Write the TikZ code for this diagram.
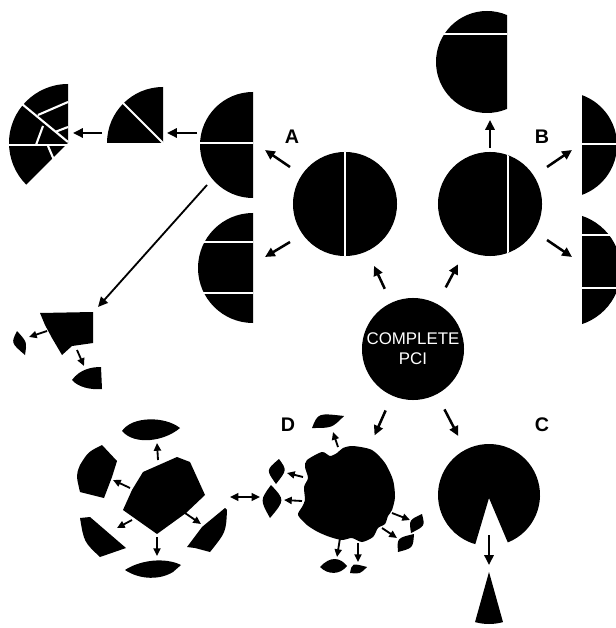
\documentclass[tikz,border=0pt]{standalone}
\usepackage{fontspec}
\setmainfont{Liberation Sans}
\usetikzlibrary{arrows.meta, positioning}
\tikzset{
  piece/.style={fill=black},
  crack/.style={draw=white, line width=1.5pt},
  arrow/.style={-{Triangle[length=7pt,width=6.5pt]}, line width=1.8pt},
  smallarrow/.style={-{Triangle[length=5.5pt,width=5pt]}, line width=1.3pt},
  letter/.style={font=\fontsize{14}{16}\selectfont\bfseries},
  disc/.style={circle, fill=black, inner sep=0pt, minimum size=2.6cm}
}
\begin{document}
\begin{tikzpicture}[x=0.025cm, y=-0.025cm]
  \fill[white] (0,0) rectangle (615,628);
  \useasboundingbox (0,0) rectangle (615,628);

  % Complete PCI and the two split circles
  \node[disc, minimum size=2.55cm, text=white, align=center,
    font=\fontsize{12}{14}\selectfont] (pci) at (413,349) {COMPLETE\\PCI};
  \node[disc] (A) at (345,204) {};
  \node[disc] (B) at (490,204) {};
  \coordinate (C) at (489,495);
  \coordinate (D) at (348,495);
  \draw[crack] (A.north) -- (A.south);
  \begin{scope}
    \clip (B) circle (52);
    \draw[crack] (508,140) -- (508,270);
  \end{scope}

  % Letters
  \node[letter] (labA) at (292,137) {A};
  \node[letter] (labB) at (542,137) {B};
  \node[letter] (labC) at (542,425) {C};
  \node[letter] (labD) at (288,425) {D};

  % Arrows out of the complete PCI
  \draw[arrow, shorten <=0.38cm, shorten >=0.4cm] (pci) -- (A);
  \draw[arrow, shorten <=0.46cm, shorten >=0.4cm] (pci) -- (B);
  \draw[arrow, shorten <=0.42cm, shorten >=1.66cm] (pci) -- (C);
  \draw[arrow, shorten <=0.4cm, shorten >=1.63cm] (pci) -- (D);

  % A: halves and their pieces
  \draw[arrow] (290,167) -- (265,150);
  \draw[arrow] (290,242) -- (265,257);
  \fill[piece] (253,92) arc[start angle=-90, end angle=-270, radius=53] -- cycle;
  \draw[crack] (199,143) -- (253,143);
  \fill[piece] (253,213) arc[start angle=-90, end angle=-270, radius=55] -- cycle;
  \draw[crack] (197,242) -- (253,242);
  \draw[crack] (197,293) -- (253,293);

  \draw[arrow] (197,133) -- (167,133);
  \fill[piece] (163,143) -- (107,143) arc[start angle=180, end angle=270, radius=56] -- cycle;
  \draw[crack] (163,143) -- ++(225:58);

  \draw[arrow] (102,133) -- (73,133);
  \fill[piece] (68,143) -- (68,84) arc[start angle=270, end angle=135, radius=59] -- cycle;
  \draw[crack] (5,145) -- (68,145);
  \draw[crack] (22,104) -- (68,142);
  \draw[crack] (38,115) -- (68,102);
  \draw[crack] (43,126) -- (36,145);
  \draw[crack] (55,132) -- (68,127);
  \draw[crack] (48,146) -- (54,160);

  % A: crushed corner
  \draw[arrow, line width=1.3pt] (207,185) -- (98,307);
  \fill[piece] (40,313) -- (93,312) -- (93,343) -- (72,346) -- (62,355)
    -- (52,338) -- (45,325) -- cycle;
  \draw[smallarrow] (47,331) -- (29,337);
  \fill[piece] (17,331) .. controls (11,343) .. (25,355) .. controls (27,342) .. cycle;
  \draw[smallarrow] (77,350) -- (84,366);
  \fill[piece] (72,380) .. controls (80,369) and (92,367) .. (101,367)
    -- (102,389) .. controls (90,390) and (78,387) .. cycle;

  % B: pieces
  \draw[arrow] (490,148) -- (490,120);
  \begin{scope}
    \clip (430,0) rectangle (507,120);
    \fill[piece] (487,62) circle (51);
    \draw[crack] (430,34) -- (507,34);
  \end{scope}
  \draw[arrow] (547,167) -- (572,150);
  \begin{scope}
    \clip (582,85) rectangle (620,200);
    \fill[piece] (564,145) circle (53);
    \draw[crack] (582,144) -- (620,144);
  \end{scope}
  \draw[arrow] (547,240) -- (572,257);
  \begin{scope}
    \clip (582,205) rectangle (620,335);
    \fill[piece] (564,270) circle (57);
    \draw[crack] (582,235) -- (620,235);
    \draw[crack] (582,288) -- (620,288);
  \end{scope}

  % C: wedge
  \fill[piece] (C) ++(68.4:51) arc[start angle=68.4, end angle=-254.4, radius=51]
    -- (489,498) -- cycle;
  \draw[arrow] (489,535) -- (489,565);
  \fill[piece] (489,572) -- ++(74.4:52) arc[start angle=74.4, end angle=105.6, radius=52] -- cycle;

  % D: chipped circle
  \fill[piece] plot[smooth cycle, tension=0.45] coordinates {
    (307,460) (322,452) (330,456) (337,453) (343,448) (353,446) (372,450)
    (385,463) (393,480) (395,497) (392,510) (388,516) (385,524) (378,528)
    (373,537) (362,542) (352,538) (342,540) (330,537) (318,532) (307,525)
    (298,515) (302,507) (305,500) (304,487) (308,478) (305,467)};
  \draw[smallarrow] (338,447) -- (333,432);
  \fill[piece] (312,428) .. controls (318,413) .. (344,416) .. controls (332,428) .. cycle;
  \draw[smallarrow] (303,477) -- (287,473);
  \fill[piece] (279,459) .. controls (266,470) .. (276,484) .. controls (287,470) .. cycle;
  \draw[smallarrow] (302,501) -- (284,500);
  \fill[piece] (271,485) .. controls (260,500) .. (270,518) .. controls (285,500) .. cycle;
  \draw[smallarrow] (392,513) -- (410,520);
  \fill[piece] (422,514) .. controls (409,520) .. (411,533) .. controls (425,526) .. cycle;
  \draw[smallarrow] (382,528) -- (397,538);
  \fill[piece] (414,534) .. controls (397,538) .. (398,552) .. controls (413,548) .. cycle;
  \draw[smallarrow] (340,538) -- (337,557);
  \fill[piece] (320,567) .. controls (330,556) and (340,557) .. (347,566)
    .. controls (340,575) and (328,575) .. cycle;
  \draw[smallarrow] (358,543) -- (358,562);
  \fill[piece] (350,573) .. controls (352,563) .. (367,567) .. controls (360,574) .. cycle;

  % D: shattered circle
  \draw[arrow, {Triangle[length=6pt,width=5.5pt]}-{Triangle[length=6pt,width=5.5pt]}]
    (230,497) -- (260,497);
  \fill[piece] (143,472) -- (177,457) -- (190,462) -- (205,495) -- (186,513)
    -- (157,534) -- (123,510) -- (132,490) -- cycle;
  \draw[smallarrow] (158,460) -- (157,443);
  \fill[piece] (122,431) .. controls (132,416) and (165,416) .. (180,428)
    .. controls (165,441) and (135,446) .. cycle;
  \draw[smallarrow] (130,488) -- (113,480);
  \fill[piece] (102,445) -- (117,461) -- (112,477) -- (104,498) -- (80,492)
    .. controls (76,475) .. (80,465) .. controls (88,452) .. cycle;
  \draw[smallarrow] (132,520) -- (117,528);
  \fill[piece] (80,518) -- (90,517) -- (126,548) -- (100,557) .. controls (84,542) .. cycle;
  \draw[smallarrow] (157,537) -- (157,556);
  \fill[piece] (125,570) .. controls (140,560) and (165,557) .. (181,565) -- (173,572)
    .. controls (160,580) and (140,580) .. cycle;
  \draw[smallarrow] (185,513) -- (201,524);
  \fill[piece] (187,547) -- (202,527) -- (225,508) -- (227,510) .. controls (226,532) .. (210,552)
    -- (195,548) -- cycle;
\end{tikzpicture}
\end{document}
